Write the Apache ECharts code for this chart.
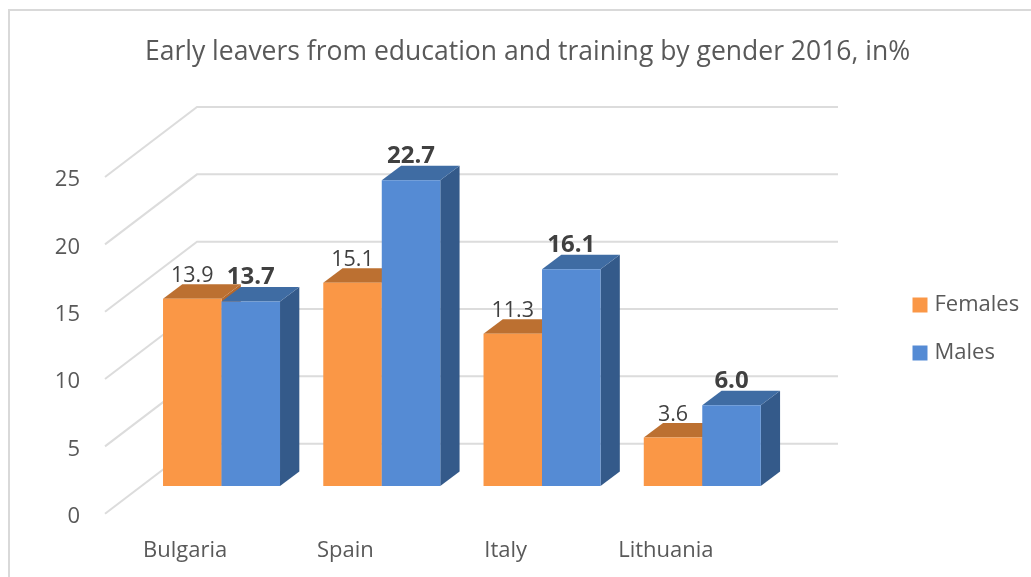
<!DOCTYPE html>
<html>
<head>
<meta charset="utf-8">
<title>Early leavers</title>
<script src="https://cdn.jsdelivr.net/npm/echarts@6/dist/echarts.min.js"></script>
<style>
  html, body { margin: 0; padding: 0; background: #fff; }
  #main { width: 1031px; height: 577px; }
</style>
</head>
<body>
<div id="main"></div>
<script>
// data
var countries = ['Bulgaria', 'Spain', 'Italy', 'Lithuania'];
var females = [13.9, 15.1, 11.3, 3.6];
var males = [13.7, 22.7, 16.1, 6.0];
var yTicks = [0, 5, 10, 15, 20, 25];

var font = '"Open Sans", "Noto Sans", sans-serif';
var textColor = '#595959';

// fake 3d: the wall sits behind the axis plane, bars stand half way in
var wallDx = 92, wallDy = 70;
var barDx = 36.4, barDy = 27.7;
var sideDx = 19.3, sideDy = 14.5;
var barW = 58.5;

function renderWall(params, api) {
  var box = params.coordSys;
  var y = api.coord([0, api.value(1)])[1];
  return {
    type: 'polyline',
    shape: { points: [[box.x, y], [box.x + wallDx, y - wallDy], [box.x + box.width + wallDx, y - wallDy]] },
    style: { stroke: '#dcdcdc', lineWidth: 2, fill: null }
  };
}

function barRenderer(offset, colors, bold) {
  return function (params, api) {
    var v = api.value(1);
    var base = api.coord([api.value(0), 0]);
    var top = api.coord([api.value(0), v]);
    var x0 = base[0] + barDx + offset * barW;
    var x1 = x0 + barW;
    var y0 = base[1] - barDy;
    var y1 = top[1] - barDy;
    return {
      type: 'group',
      children: [
        {
          type: 'polygon',
          shape: { points: [[x1, y0], [x1 + sideDx, y0 - sideDy], [x1 + sideDx, y1 - sideDy], [x1, y1]] },
          style: { fill: colors.side }
        },
        {
          type: 'polygon',
          shape: { points: [[x0, y1], [x1, y1], [x1 + sideDx, y1 - sideDy], [x0 + sideDx, y1 - sideDy]] },
          style: { fill: colors.top }
        },
        {
          type: 'rect',
          shape: { x: x0, y: y1, width: barW, height: y0 - y1 },
          style: { fill: colors.front }
        },
        {
          type: 'text',
          z2: 20,
          style: {
            text: v.toFixed(1),
            x: (x0 + x1) / 2,
            y: y1 - (bold ? 24 : 23),
            align: 'center',
            verticalAlign: 'middle',
            fill: '#404040',
            font: bold ? 'bold 24px ' + font : '21.5px ' + font
          }
        }
      ]
    };
  };
}

var orange = { front: '#FA9746', top: '#BC7031', side: '#B5682C' };
var blue = { front: '#558BD4', top: '#3F6CA3', side: '#345A8A' };

var chart = echarts.init(document.getElementById('main'));
chart.setOption({
  animation: false,
  backgroundColor: '#fff',
  title: {
    text: 'Early leavers from education and training by gender 2016, in%',
    left: 522.5,
    top: 34,
    textAlign: 'center',
    textStyle: { color: textColor, fontFamily: font, fontSize: 26.5, fontWeight: 'normal' }
  },
  legend: {
    orient: 'vertical',
    left: 912.5,
    top: 294,
    padding: 0,
    icon: 'rect',
    itemWidth: 15,
    itemHeight: 15,
    itemGap: 26,
    selectedMode: false,
    data: ['Females', 'Males'],
    textStyle: { color: textColor, fontFamily: font, fontSize: 22, padding: [0, 0, 0, 2] }
  },
  grid: { left: 105, top: 177, width: 641, height: 336.7 },
  xAxis: {
    type: 'category',
    data: countries,
    axisLine: { show: false },
    axisTick: { show: false },
    axisLabel: { color: textColor, fontFamily: font, fontSize: 22, margin: 26 }
  },
  yAxis: {
    type: 'value',
    min: 0,
    max: 25,
    interval: 5,
    axisLine: { show: false },
    axisTick: { show: false },
    splitLine: { show: false },
    axisLabel: { color: textColor, fontFamily: font, fontSize: 22, margin: 25, verticalAlign: 'top', lineHeight: 6 }
  },
  series: [
    {
      type: 'custom',
      name: 'wall',
      renderItem: renderWall,
      encode: { x: 0, y: 1 },
      data: yTicks.map(function (t) { return [0, t]; })
    },
    {
      type: 'custom',
      name: 'Females',
      itemStyle: { color: orange.front },
      renderItem: barRenderer(-1, orange, false),
      encode: { x: 0, y: 1 },
      data: females.map(function (v, i) { return [i, v]; })
    },
    {
      type: 'custom',
      name: 'Males',
      itemStyle: { color: blue.front },
      renderItem: barRenderer(0, blue, true),
      encode: { x: 0, y: 1 },
      data: males.map(function (v, i) { return [i, v]; })
    }
  ],
  graphic: [
    {
      type: 'polyline',
      silent: true,
      shape: { points: [[9, 577], [9, 10], [1031, 10]] },
      style: { stroke: '#d9d9d9', lineWidth: 2, fill: null }
    }
  ]
});
</script>
</body>
</html>
